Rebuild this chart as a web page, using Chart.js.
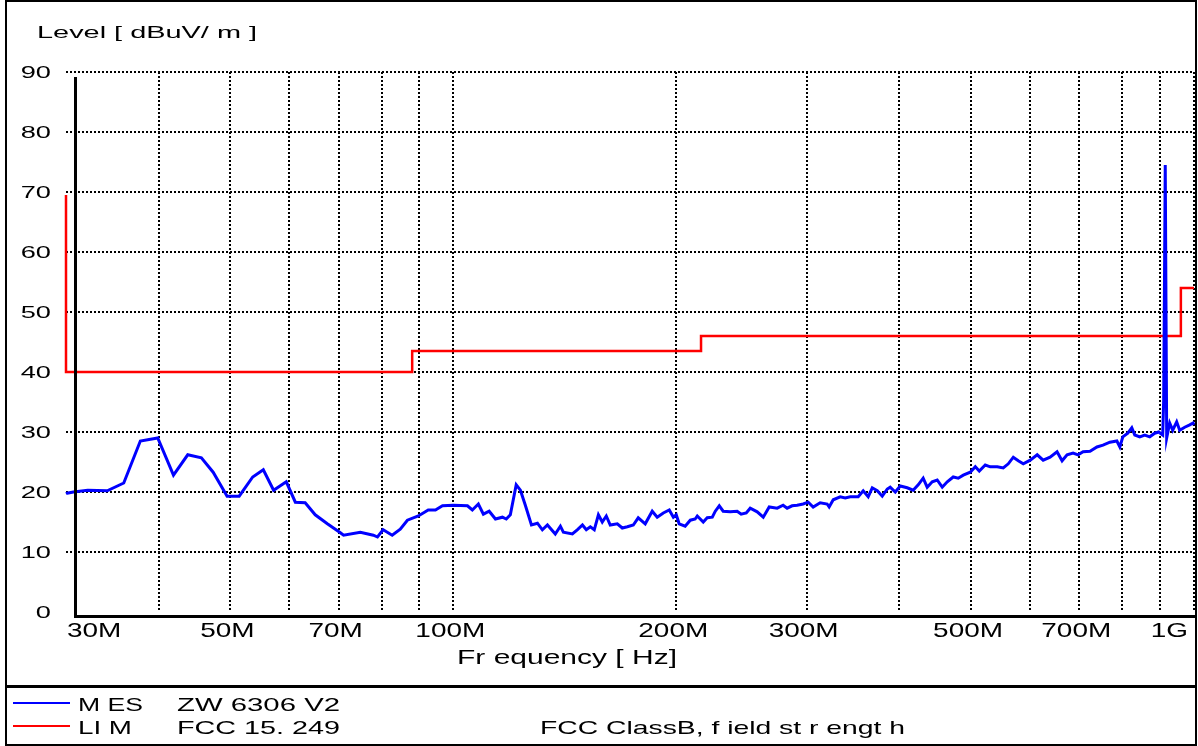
<!DOCTYPE html>
<html><head><meta charset="utf-8">
<script src="https://cdn.jsdelivr.net/npm/chart.js@4/dist/chart.umd.min.js"></script>
<style>html,body{margin:0;padding:0;background:#fff;}#wrap{width:1198px;height:746px;position:relative;overflow:hidden}</style>
</head><body><div id="wrap"><canvas id="c" width="1198" height="746"></canvas></div>
<script>
// ---- data (frequency in MHz, level in dBuV/m) ----
const mesFreq = [30.0,30.1,30.7,32.1,34.1,35.9,37.8,39.9,41.9,43.8,45.7,47.4,49.5,51.4,53.6,55.4,57.2,59.5,61.2,63.1,65.1,67.6,70.4,
71.1,74.9,78.0,79.0,80.4,82.7,84.8,86.7,89.7,92.5,94.6,96.7,100,104.5,106.1,108.1,109.8,111.8,114.0,116.5,117.9,119.4,121.6,123.2,125.1,127.5,129.9,131.9,134.0,137.3,139.5,140.8,144.8,147.0,149.4,151.2,153.1,155.0,157.0,158.9,160.9,162.9,166.5,169.1,
171.8,175.0,177.7,181.6,185.6,188.5,192.1,195.7,198.2,200.0,201.8,205.6,208.9,212.1,213.5,217.5,220.2,223.7,225.8,228.6,231.4,236.5,241.7,244.7,248.6,251.7,257.2,262.1,267.0,273.7,278.8,282.3,286.7,291.2,296.7,301.4,306.1,312.8,319.7,321.7,325.8,332.9,338.2,343.5,352.1,357.6,363.2,367.8,373.6,379.4,385.4,
388.9,395.1,401.3,410.0,417.7,424.3,430.9,436.3,443.2,450.1,457.2,464.4,473.1,480.5,488.1,498.8,506.7,513.0,522.6,530.8,542.5,552.7,561.4,570.2,579.1,588.2,601.0,614.2,625.7,639.3,653.3,663.6,674.0,686.7,697.4,708.4,723.8,739.6,753.6,770.0,786.8,794.1,801.5,814.0,824.2,831.9,844.9,858.1,871.5,885.1,896.1,907.3,910.1,914.5,916.5,918.6,927.2,935.9,947.6,956.5,971.5,986.8,997.0,1000];
const mesLevel = [19.7,19.8,20.0,20.3,20.2,21.5,28.5,29.0,22.8,26.2,25.7,23.3,19.3,19.3,22.5,23.7,20.3,21.7,18.3,18.2,16.2,14.7,13.2,
12.8,13.3,12.8,12.5,13.7,12.8,13.8,15.3,16.0,17.0,17.0,17.7,17.8,17.7,17.0,18.0,16.3,16.8,15.5,15.8,15.5,16.2,21.2,20.3,17.8,14.5,14.8,13.7,14.5,13.0,14.3,13.3,13.0,13.7,14.5,13.7,14.2,13.7,16.2,15.0,16.0,14.5,14.7,14.0,
14.2,14.5,15.7,14.7,16.8,15.8,16.5,17.0,15.8,16.2,14.7,14.3,15.3,15.5,16.0,15.0,15.7,15.8,16.8,17.7,16.8,16.7,16.8,16.3,16.5,17.3,16.7,15.8,17.5,17.3,17.8,17.3,17.7,17.8,18.0,18.3,17.5,18.2,18.0,17.5,18.7,19.2,19.0,19.2,19.2,20.2,19.2,20.7,20.2,19.3,20.5,
20.8,20.0,21.0,20.7,20.3,21.2,22.3,20.8,21.7,22.0,20.8,21.7,22.5,22.3,22.8,23.3,24.2,23.5,24.5,24.2,24.2,24.0,24.7,25.8,25.2,24.7,25.3,26.2,25.3,25.8,26.7,25.2,26.2,26.5,26.2,26.7,26.8,27.5,27.8,28.3,28.5,27.5,29.2,29.8,30.7,29.5,29.2,29.5,29.2,29.8,30.0,29.5,35.3,74.5,74.5,29.0,31.5,30.3,31.7,30.3,30.8,31.2,31.5,31.2];
const limFreq = [30,30,88,88,216,216,960,960,1000];
const limLevel = [69.5,40,40,43.5,43.5,46,46,54,54];
const yTickValues = [0,10,20,30,40,50,60,70,80,90];
const xGridValues = [30,40,50,60,70,80,90,100,200,300,400,500,600,700,800,900,1000];
const xLabelValues = [30,50,70,100,200,300,500,700,1000];
const xLabelTexts = ['30M','50M','70M','100M','200M','300M','500M','700M','1G'];
const yTitle = 'Level [ dBuV/ m ]';
const xTitle = 'Fr equency [ Hz]';
const legendRows = [
  {name:'M ES', desc:'ZW 6306 V2', note:'', color:'#0000ff'},
  {name:'LI M', desc:'FCC 15. 249', note:'FCC ClassB, f ield st r engt h', color:'#ff0000'}
];

const FONT = '"Liberation Sans", Arial, sans-serif';
function drawScaled(ctx, text, x, baseline, px, sx, align){
  ctx.save();
  ctx.font = px + 'px ' + FONT;
  ctx.textBaseline = 'alphabetic';
  ctx.textAlign = 'left';
  const w = ctx.measureText(text).width * sx;
  const left = align === 'left' ? x : (align === 'right' ? x - w : x - w / 2);
  ctx.translate(left, baseline);
  ctx.scale(sx, 1);
  ctx.fillStyle = '#000';
  ctx.fillText(text, 0, 0);
  ctx.restore();
}
function fitText(ctx, text, left, right, baseline, px){
  ctx.save();
  ctx.font = px + 'px ' + FONT;
  const w = ctx.measureText(text).width;
  ctx.restore();
  drawScaled(ctx, text, left, baseline, px, (right - left) / w, 'left');
}

const decor = {
  id: 'decor',
  afterDraw(chart){
    const ctx = chart.ctx, a = chart.chartArea;
    const xs = chart.scales.x, ys = chart.scales.y;
    ctx.save();
    ctx.fillStyle = '#000';
    // outer frame
    ctx.fillRect(5, 0, 2, 746);
    ctx.fillRect(5, 0, 1192, 2);
    ctx.fillRect(1195, 0, 2, 746);
    ctx.fillRect(5, 744, 1192, 2);
    // axes lines
    ctx.fillRect(a.left + 8, a.top + 5, 3, a.bottom - a.top);
    ctx.fillRect(a.left + 8, a.bottom + 3, a.right - a.left - 6, 3);
    // legend separator
    ctx.fillRect(5, 685, 1192, 3);
    ctx.restore();
    // y tick labels
    yTickValues.forEach(v => {
      const y = ys.getPixelForValue(v);
      drawScaled(ctx, String(v), 51, y + 6, 17, 1.6, 'right');
    });
    // x tick labels
    xLabelValues.forEach((v, i) => {
      const x = xs.getPixelForValue(v);
      let align = 'center', px = x - 3;
      if (i === 0) { align = 'left'; px = x + 1; }
      if (i === xLabelValues.length - 1) { align = 'right'; px = x - 6; }
      drawScaled(ctx, xLabelTexts[i], px, 637, 21, 1.33, align);
    });
    // titles
    fitText(ctx, yTitle, 37, 257, 38, 17);
    fitText(ctx, xTitle, 457, 677, 664, 20);
    // legend
    legendRows.forEach((r, i) => {
      const base = 711 + i * 23;
      ctx.save();
      ctx.fillStyle = r.color;
      ctx.fillRect(13, base - 9, 57, 2);
      ctx.restore();
      fitText(ctx, r.name, 78, i === 0 ? 143 : 132, base, 19);
      fitText(ctx, r.desc, 177, 340, base, 19);
      if (r.note) fitText(ctx, r.note, 540, 905, base, 19);
    });
  }
};

new Chart(document.getElementById('c'), {
  type: 'line',
  data: {
    datasets: [
      { label: 'MES', data: mesFreq.map((f, i) => ({x: f, y: mesLevel[i]})), borderColor: '#0000ff', borderWidth: 3, pointRadius: 0, tension: 0, clip: false },
      { label: 'LIM', data: limFreq.map((f, i) => ({x: f, y: limLevel[i]})), borderColor: '#ff0000', borderWidth: 2.5, pointRadius: 0, tension: 0, clip: false }
    ]
  },
  options: {
    responsive: false, animation: false, devicePixelRatio: 1,
    layout: { padding: { left: 66, right: 4, top: 72, bottom: 134 } },
    plugins: { legend: { display: false }, tooltip: { enabled: false } },
    scales: {
      x: {
        type: 'logarithmic', min: 30, max: 1000,
        afterBuildTicks(s){ s.ticks = xGridValues.map(v => ({value: v})); },
        afterFit(s){ s.height = 0; },
        ticks: { display: false },
        border: { display: false, dash: [2, 2] },
        grid: { drawTicks: false, tickLength: 0, lineWidth: 2, borderDash: [2, 2],
          color: c => (c.tick && c.tick.value === 30) ? 'rgba(0,0,0,0)' : '#000' }
      },
      y: {
        type: 'linear', min: 0, max: 90,
        afterBuildTicks(s){ s.ticks = yTickValues.map(v => ({value: v})); },
        afterFit(s){ s.width = 0; },
        ticks: { display: false },
        border: { display: false, dash: [2, 2] },
        grid: { drawTicks: false, tickLength: 0, lineWidth: 2, borderDash: [2, 2],
          color: c => (c.tick && c.tick.value === 0) ? 'rgba(0,0,0,0)' : '#000' }
      }
    }
  },
  plugins: [decor]
});
</script></body></html>
